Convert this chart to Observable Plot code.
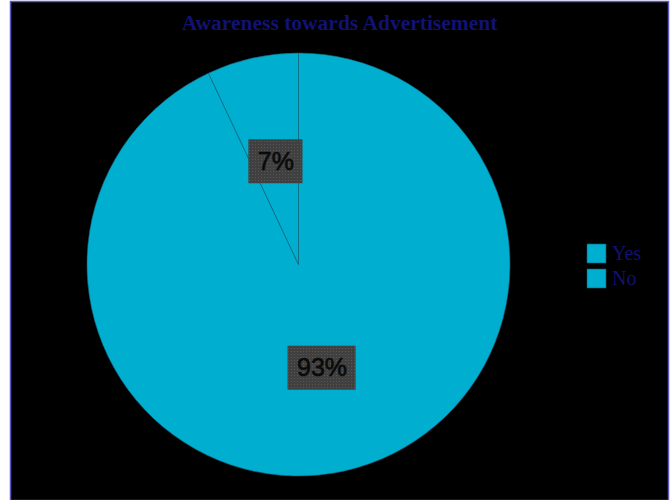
<!DOCTYPE html>
<html><head><meta charset="utf-8">
<script src="https://cdn.jsdelivr.net/npm/d3@7"></script>
<script src="https://cdn.jsdelivr.net/npm/@observablehq/plot@0.6"></script>
<style>body{margin:0;background:#fff}#chart svg{display:block}</style>
</head><body><div id="chart"></div>
<script>
const title = "Awareness towards Advertisement";
const categories = ["Yes", "No"];
const shares = [93, 7];
const labels = ["93%", "7%"];

const sliceFill = "#00AFCF";
const sliceStroke = "#16627a";
const textBlue = "#121270";

const data = categories.map((c, i) => ({category: c, value: shares[i], label: labels[i]}));
const arcs = d3.pie().sort(null).value(d => d.value)(data);
const labelR = 0.5;
const slices = arcs.map(p => {
  const a = (p.startAngle + p.endAngle) / 2;
  return {...p.data, startAngle: p.startAngle, endAngle: p.endAngle,
          lx: Math.sin(a) * labelR, ly: Math.cos(a) * labelR};
});

const ctx = document.createElement("canvas").getContext("2d");
ctx.font = "25px 'Liberation Sans', Arial, sans-serif";

function pieMark(index, scales, values, dims) {
  const cx = scales.x(0), cy = scales.y(0), r = scales.x(1) - scales.x(0);
  const arc = d3.arc().innerRadius(0).outerRadius(r);
  const g = d3.create("svg:g");
  const defs = g.append("defs");
  const pat = defs.append("pattern").attr("id", "dots").attr("width", 3).attr("height", 3)
    .attr("patternUnits", "userSpaceOnUse");
  pat.append("rect").attr("width", 3).attr("height", 3).attr("fill", "#404040");
  pat.append("rect").attr("width", 1).attr("height", 1).attr("fill", "#575757");
  const pg = g.append("g").attr("transform", `translate(${cx},${cy})`);
  pg.selectAll("path").data(slices).join("path")
    .attr("d", d => arc(d)).attr("fill", sliceFill)
    .attr("stroke", sliceStroke).attr("stroke-width", 0.6);
  g.selectAll("rect.box").data(slices).join("rect").attr("class", "box")
    .attr("width", d => ctx.measureText(d.label).width + 18)
    .attr("height", 44)
    .attr("x", d => scales.x(d.lx) - (ctx.measureText(d.label).width + 18) / 2)
    .attr("y", d => scales.y(d.ly) - 22)
    .attr("fill", "url(#dots)");
  return g.node();
}

function legendMark(index, scales, values, dims) {
  const g = d3.create("svg:g");
  const x0 = 587, y0 = 244, size = 19, step = 25;
  const items = g.selectAll("g").data(categories).join("g")
    .attr("transform", (d, i) => `translate(${x0},${y0 + i * step})`);
  items.append("rect").attr("width", size).attr("height", size)
    .attr("fill", sliceFill).attr("stroke", "#0a5a6e").attr("stroke-width", 0.6);
  items.append("text").attr("x", size + 6).attr("y", size - 3)
    .attr("text-anchor", "start")
    .attr("font-family", "'Liberation Serif', 'Times New Roman', serif")
    .attr("font-size", 20).attr("fill", textBlue).text(d => d);
  return g.node();
}

const chart = Plot.plot({
  width: 671,
  height: 500,
  marginLeft: 10, marginRight: 3, marginTop: 1, marginBottom: 0,
  x: {domain: [-1, 1], range: [87, 510], axis: null},
  y: {domain: [-1, 1], range: [476, 53], axis: null},
  style: {background: "#fff", overflow: "visible"},
  marks: [
    Plot.frame({fill: "#000", stroke: "#5a5ac0", strokeWidth: 1.5}),
    pieMark,
    Plot.text(slices, {x: "lx", y: "ly", text: "label", fontSize: 25,
      fontFamily: "'Liberation Sans', Arial, sans-serif", fill: "#0a0a0a",
      stroke: "#0a0a0a", strokeWidth: 0.6}),
    Plot.text([title], {frameAnchor: "top", dy: 13.2, fontSize: 21.5, fontWeight: "bold",
      fontFamily: "'Liberation Serif', 'Times New Roman', serif", fill: textBlue}),
    legendMark
  ]
});
document.getElementById("chart").append(chart);
</script>
</body></html>
